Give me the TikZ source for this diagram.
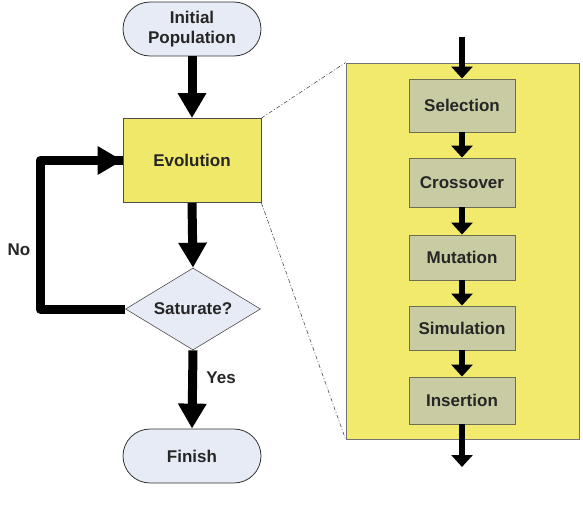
\documentclass[tikz,border=0pt]{standalone}
\usepackage{fontspec}
\setmainfont{Liberation Sans}
\usetikzlibrary{arrows.meta,shapes.geometric,shapes.misc}
\definecolor{evoyellow}{HTML}{F0E868}
\definecolor{panelyellow}{HTML}{F2EA6C}
\definecolor{termblue}{HTML}{E6EBF5}
\definecolor{stepgreen}{HTML}{C9CCA2}
\definecolor{stepborder}{HTML}{6E6E50}
\tikzset{
  lbl/.style={font=\fontsize{17}{20}\selectfont\bfseries, text=black!85},
  term/.style={lbl, rounded rectangle, draw=black!80, line width=0.8pt, fill=termblue,
    minimum width=138pt, minimum height=54pt, inner sep=0pt, align=center},
  evobox/.style={lbl, rectangle, draw=black!70, line width=0.8pt, fill=evoyellow,
    minimum width=138pt, minimum height=84pt, inner sep=0pt},
  decide/.style={lbl, diamond, draw=black!70, line width=0.6pt, fill=termblue,
    inner sep=0pt},
  stepbox/.style={lbl, rectangle, draw=stepborder, line width=0.9pt, fill=stepgreen,
    minimum width=106pt, inner sep=0pt},
  bigarrow/.style={line width=9pt, -{Triangle[length=25pt,width=27pt]}},
  smallarrow/.style={line width=6pt, -{Triangle[length=12pt,width=21pt]}},
  zoomline/.style={line width=0.5pt, dash pattern=on 4pt off 2pt on 1pt off 2pt, black!80}
}
\begin{document}
\begin{tikzpicture}[x=1pt,y=-1pt]
\useasboundingbox (0,0) rectangle (583,508);
% main flow
\node[term] (init) at (192,29) {Initial\\Population};
\node[evobox] (evo) at (192,160.5) {Evolution};
\node[decide, minimum width=135pt, minimum height=82pt, aspect=1.65] (sat) at (193,309) {};
\node[lbl] (sattxt) at (193,309) {Saturate?};
\node[term] (fin) at (192,456) {Finish};

\draw[bigarrow] (init.south) -- (evo.north);
\draw[bigarrow] (evo.south) -- (sat.north);
\draw[bigarrow] (sat.south) -- (fin.north) node[lbl, pos=0.35, right=6pt] {Yes};
\coordinate (lb) at (40,309);
\coordinate (lt) at (40,160.5);
\draw[line width=9pt, line join=round] (sat.west) -- (lb) -- (lt) -- (evo.west);
\draw[bigarrow] (lt) -- (evo.west);
\node[lbl] (no) at (19,250) {No};

% zoom panel
\node[rectangle, draw=black!55, line width=0.8pt, fill=panelyellow,
  minimum width=233pt, minimum height=376pt, inner sep=0pt] (panel) at (462.5,251) {};
\draw[zoomline] (evo.north east) -- (panel.north west);
\draw[zoomline] (evo.south east) -- (panel.south west);

\node[stepbox, minimum height=53pt] (s1) at (462,105.5) {Selection};
\node[stepbox, minimum height=49pt] (s2) at (462,182.5) {Crossover};
\node[stepbox, minimum height=45pt] (s3) at (462,257.5) {Mutation};
\node[stepbox, minimum height=44pt] (s4) at (462,328) {Simulation};
\node[stepbox, minimum height=47pt] (s5) at (462,400.5) {Insertion};
\coordinate (topin) at (462,37);
\coordinate (botout) at (462,467);
\draw[smallarrow] (topin) -- (s1.north);
\draw[smallarrow] (s1.south) -- (s2.north);
\draw[smallarrow] (s2.south) -- (s3.north);
\draw[smallarrow] (s3.south) -- (s4.north);
\draw[smallarrow] (s4.south) -- (s5.north);
\draw[smallarrow] (s5.south) -- (botout);
\end{tikzpicture}
\end{document}
